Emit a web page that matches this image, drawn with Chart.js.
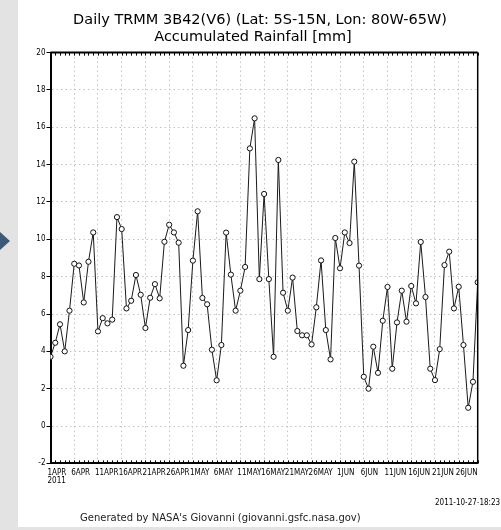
<!DOCTYPE html>
<html lang="en">
<head>
<meta charset="UTF-8">
<title>Daily TRMM 3B42(V6)</title>
<style>
    body {
        margin: 0;
        padding: 0;
        background-color: #e3e3e3;
        font-family: "DejaVu Sans", sans-serif;
    }
    #page {
        position: relative;
        width: 501px;
        height: 530px;
        overflow: hidden;
    }
    #panel {
        position: absolute;
        left: 18px;
        top: 0;
        width: 483px;
        height: 527px;
        background: #fff;
    }
    #arrow {
        position: absolute;
        left: 0;
        top: 232px;
        width: 0;
        height: 0;
        border-top: 9px solid transparent;
        border-bottom: 9px solid transparent;
        border-left: 10px solid #3c5a78;
    }
    #chartBox {
        position: absolute;
        left: 0;
        top: 0;
        width: 501px;
        height: 530px;
    }
    .txt {
        position: absolute;
        color: #000;
        white-space: nowrap;
    }
    #title1 {
        left: 0;
        width: 520px;
        top: 11px;
        text-align: center;
        font-size: 14.5px;
    }
    #title2 {
        left: 0;
        width: 506px;
        top: 28px;
        text-align: center;
        font-size: 14.5px;
    }
    #stamp {
        left: 435px;
        top: 498px;
        font-size: 8px;
        font-family: "Liberation Sans Narrow", "DejaVu Sans Condensed", "Liberation Sans", sans-serif;
    }
    #credit {
        left: 80px;
        top: 512px;
        font-size: 10px;
        color: #222;
    }
</style>
</head>
<body>
<div id="page">
    <div id="panel"></div>
    <div id="arrow"></div>
    <div id="chartBox"><canvas id="rainChart" width="501" height="530"></canvas></div>
    <div class="txt" id="title1">Daily TRMM 3B42(V6) (Lat: 5S-15N, Lon: 80W-65W)</div>
    <div class="txt" id="title2">Accumulated Rainfall [mm]</div>
    <div class="txt" id="stamp">2011-10-27-18:23</div>
    <div class="txt" id="credit">Generated by NASA's Giovanni (giovanni.gsfc.nasa.gov)</div>
</div>

<script src="https://cdn.jsdelivr.net/npm/chart.js@4"></script>
<script>
    // daily accumulated rainfall [mm], 1 Apr 2011 .. 30 Jun 2011
    const rainfall = [
        3.71, 4.46, 5.45, 4.00, 6.18, 8.69, 8.60, 6.62, 8.80, 10.37,
        5.07, 5.78, 5.50, 5.70, 11.19, 10.55, 6.30, 6.71, 8.09, 7.03,
        5.25, 6.87, 7.60, 6.84, 9.87, 10.78, 10.37, 9.82, 3.23, 5.14,
        8.86, 11.50, 6.86, 6.52, 4.09, 2.45, 4.34, 10.36, 8.11, 6.18,
        7.25, 8.52, 14.87, 16.48, 7.87, 12.43, 7.87, 3.71, 14.25, 7.14,
        6.18, 7.95, 5.09, 4.86, 4.86, 4.37, 6.36, 8.87, 5.14, 3.57,
        10.07, 8.45, 10.37, 9.80, 14.16, 8.59, 2.64, 2.00, 4.25, 2.85,
        5.64, 7.45, 3.07, 5.55, 7.25, 5.59, 7.50, 6.57, 9.86, 6.91,
        3.07, 2.46, 4.12, 8.62, 9.34, 6.30, 7.46, 4.34, 0.98, 2.37, 7.70
    ];

    // day offsets (from 1 Apr) where the date labels sit
    const tickDays = [0, 5, 10, 15, 20, 25, 30, 35, 40, 45, 50, 55, 61, 66, 71, 76, 81, 86];
    const tickLabels = [
        ['1APR', '2011'], '6APR', '11APR', '16APR', '21APR', '26APR',
        '1MAY', '6MAY', '11MAY', '16MAY', '21MAY', '26MAY',
        '1JUN', '6JUN', '11JUN', '16JUN', '21JUN', '26JUN'
    ];

    const yMin = -2;
    const yMax = 20;
    const yStep = 2;

    const smallFont = "'Liberation Sans Narrow', 'DejaVu Sans Condensed', 'Liberation Sans', sans-serif";

    const points = rainfall.map((v, i) => ({ x: i, y: v }));

    // top/right frame and the little daily ticks along top and bottom
    const framePlugin = {
        id: 'frame',
        afterDatasetsDraw(chart) {
            const { ctx, chartArea: a, scales } = chart;
            ctx.save();
            ctx.strokeStyle = '#000';
            ctx.lineWidth = 2;
            ctx.beginPath();
            ctx.moveTo(a.left, a.top);
            ctx.lineTo(a.right, a.top);
            ctx.stroke();
            ctx.lineWidth = 1.5;
            ctx.beginPath();
            ctx.moveTo(a.right, a.top);
            ctx.lineTo(a.right, a.bottom);
            ctx.stroke();

            ctx.lineWidth = 1;
            ctx.beginPath();
            for (let i = 0; i <= rainfall.length - 1; i++) {
                const px = Math.round(scales.x.getPixelForValue(i)) + 0.5;
                ctx.moveTo(px, a.top);
                ctx.lineTo(px, a.top + 3);
                ctx.moveTo(px, a.bottom);
                ctx.lineTo(px, a.bottom - 3);
            }
            ctx.stroke();
            ctx.restore();
        }
    };

    new Chart(document.getElementById('rainChart'), {
        type: 'line',
        data: {
            datasets: [{
                data: points,
                borderColor: '#1a1a1a',
                borderWidth: 1,
                pointRadius: 2.6,
                pointBackgroundColor: '#fff',
                pointBorderColor: '#111',
                pointBorderWidth: 1,
                tension: 0
            }]
        },
        options: {
            responsive: false,
            animation: false,
            events: [],
            layout: {
                padding: { top: 52.6, right: 23.3, bottom: 26.6, left: 0 }
            },
            plugins: {
                legend: { display: false },
                tooltip: { enabled: false }
            },
            scales: {
                x: {
                    type: 'linear',
                    min: 0,
                    max: rainfall.length - 1,
                    afterFit(scale) { scale.height = 40; },
                    afterBuildTicks(scale) {
                        scale.ticks = tickDays.map(d => ({ value: d }));
                    },
                    grid: {
                        color: '#c2c2c2',
                        lineWidth: 1,
                        drawTicks: false
                    },
                    border: {
                        display: true,
                        color: '#000',
                        width: 2,
                        dash: [1.5, 3]
                    },
                    ticks: {
                        autoSkip: false,
                        maxRotation: 0,
                        align: 'start',
                        labelOffset: -3,
                        padding: 5,
                        color: '#000',
                        font: { family: smallFont, size: 8, lineHeight: 1.05 },
                        callback(value) {
                            const k = tickDays.indexOf(value);
                            return k >= 0 ? tickLabels[k] : '';
                        }
                    }
                },
                y: {
                    min: yMin,
                    max: yMax,
                    afterFit(scale) { scale.width = 50.5; },
                    grid: {
                        color: '#c2c2c2',
                        lineWidth: 1,
                        drawTicks: true,
                        tickLength: 4,
                        tickColor: '#000'
                    },
                    border: {
                        display: true,
                        color: '#000',
                        width: 2,
                        dash: [1.5, 3]
                    },
                    ticks: {
                        stepSize: yStep,
                        padding: 1,
                        color: '#000',
                        font: { family: smallFont, size: 8 }
                    }
                }
            }
        },
        plugins: [framePlugin]
    });
</script>
</body>
</html>
